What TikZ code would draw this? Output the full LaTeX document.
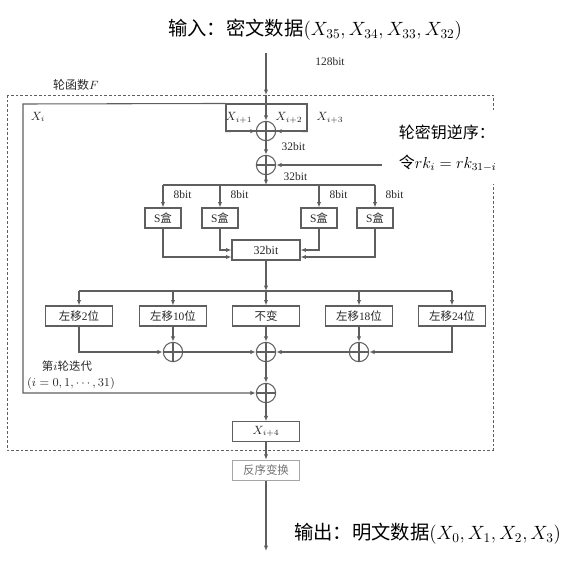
\documentclass[tikz,border=0pt]{standalone}
\usepackage{fontspec}
\setmainfont{Liberation Serif}
\newfontfamily\cjk{Noto Sans CJK SC}
\usetikzlibrary{arrows.meta}
\newcommand\zh[1]{{\cjk #1}}
\definecolor{linegray}{RGB}{95,95,95}
\definecolor{txtgray}{RGB}{40,40,40}
\begin{document}
\begin{tikzpicture}[x=0.75pt,y=-0.75pt,
  line/.style={draw=linegray, line width=0.8pt},
  arr/.style={line, -{Latex[length=4pt,width=3.2pt]}},
  small/.style={font=\fontsize{8.6}{10}\selectfont, text=txtgray},
  big/.style={font=\fontsize{14.5}{17}\selectfont, text=black},
  box/.style={draw=linegray, line width=0.8pt, fill=white, inner sep=0pt, small},
  sbox/.style={box, minimum width=27pt, minimum height=15pt},
  wbox/.style={box, minimum width=50pt, minimum height=15pt},
  xor/.style={circle, draw=linegray, line width=0.8pt, fill=white, inner sep=0pt, minimum size=14.5pt,
    path picture={\draw[linegray, line width=0.8pt] (path picture bounding box.north) -- (path picture bounding box.south)
      (path picture bounding box.west) -- (path picture bounding box.east);}},
  dashbox/.style={draw=linegray, line width=0.7pt, dash pattern=on 2pt off 1.5pt}
]
\useasboundingbox (0,0) rectangle (569,565);

% titles
\node[big] (title) at (315,30) {\zh{输入：密文数据}{\fontsize{14.5}{17}\selectfont$(X_{35},X_{34},X_{33},X_{32})$}};
\node[big] (out) at (427.5,534) {\zh{输出：明文数据}{\fontsize{14.5}{17}\selectfont$(X_0,X_1,X_2,X_3)$}};

% dashed frame of round function
\draw[dashbox] (7,95) rectangle (493,450);
\node[small, font=\fontsize{9}{10}\selectfont] (flabel) at (76,85) {\zh{轮函数}$F$};

% key text (covers dashed line)
\node[fill=white, anchor=west, align=left, inner sep=2pt, minimum height=54pt, text width=80pt,
      font=\fontsize{12}{22.5}\selectfont] (key) at (396,148) {\zh{轮密钥逆序：}\\\zh{令}$rk_i = rk_{31-i}$};

% top input
\coordinate (in) at (266,53);
\coordinate (dtop) at (266,95);
\node[small] (l128) at (330,62) {128bit};

% X box
\node[box, minimum width=60.75pt, minimum height=20.25pt] (xbox) at (266.5,117.5) {};
\coordinate (fbTL) at (23,104);
\coordinate (fbBL) at (23,393);
\node[xor] (x1) at (266,131) {};
\node[small] (lxi) at (38,117) {$X_i$};
\node[small] (lxi1) at (239,118) {$X_{i+1}$};
\node[small] (lxi2) at (289,118) {$X_{i+2}$};
\node[small] (lxi3) at (330,118) {$X_{i+3}$};

\draw[arr] (in) -- (dtop);
\draw[arr] (dtop) -- (x1);
\draw[arr] (xbox.south west) -- (x1);
\draw[arr] (xbox.south east) -- (x1);

% key xor
\node[xor] (x2) at (266,165) {};
\coordinate (kin) at (382,165);
\draw[arr] (x1) -- (x2);
\draw[arr] (kin) -- (x2);
\node[small, anchor=west] (l32a) at (277,147) {32bit};
\node[small, anchor=west] (l32b) at (279,177) {32bit};

% distribution to S boxes
\coordinate (d1) at (266,185);
\draw[arr] (x2) -- (d1);
\node[sbox] (s1) at (163,218) {S\zh{盒}};
\node[sbox] (s2) at (220,218) {S\zh{盒}};
\node[sbox] (s3) at (319,218) {S\zh{盒}};
\node[sbox] (s4) at (375,218) {S\zh{盒}};
\draw[line] (s1.north |- d1) -- (s4.north |- d1);
\foreach \s in {s1,s2,s3,s4}{
  \draw[arr] (\s.north |- d1) -- (\s.north);
  \node[small, anchor=west] at ([xshift=4.5pt]\s.north |- 0,195) {8bit};
}

% 32bit box
\node[box, minimum width=51pt, minimum height=15pt, font=\fontsize{9}{10}\selectfont] (b32) at (266,250) {32bit};
\draw[arr] (s1.south) |- ([yshift=-5.25pt]b32.west);
\draw[arr] (s2.south) |- (b32.west);
\draw[arr] (s3.south) |- (b32.east);
\draw[arr] (s4.south) |- ([yshift=-5.25pt]b32.east);

% distribution to shifts
\coordinate (d2) at (266,291);
\draw[arr] (b32) -- (d2);
\node[wbox] (r2)  at (79,316)  {\zh{左移}2\zh{位}};
\node[wbox] (r10) at (173,316) {\zh{左移}10\zh{位}};
\node[wbox] (r0)  at (266,316) {\zh{不变}};
\node[wbox] (r18) at (359,316) {\zh{左移}18\zh{位}};
\node[wbox] (r24) at (452,316) {\zh{左移}24\zh{位}};
\draw[line] (r2.north |- d2) -- (r24.north |- d2);
\foreach \r in {r2,r10,r0,r18,r24}{
  \draw[arr] (\r.north |- d2) -- (\r.north);
}

% xor row
\node[xor] (xa) at (173,352) {};
\node[xor] (xb) at (266,352) {};
\node[xor] (xc) at (359,352) {};
\draw[arr] (r2.south) |- (xa.west);
\draw[arr] (r10) -- (xa);
\draw[arr] (xa) -- (xb);
\draw[arr] (r0) -- (xb);
\draw[arr] (xc) -- (xb);
\draw[arr] (r18) -- (xc);
\draw[arr] (r24.south) |- (xc.east);

\node[small] (liter) at (67,366) {\zh{第}$i$\zh{轮迭代}};
\node[small] (lrange) at (71,383) {$(i=0,1,\cdots,31)$};

% final xor
\node[xor] (x4) at (266,393) {};
\draw[arr] (xb) -- (x4);
\draw[arr] (xbox.north west) -- (fbTL) -- (fbBL) -- (x4);

% outputs
\node[box, minimum width=50.25pt, minimum height=14.5pt] (x5) at (266,431.5) {$X_{i+4}$};
\draw[arr] (x4) -- (x5);
\node[box, draw=gray!70, minimum width=50.25pt, minimum height=15.5pt, text=gray!90!black] (rev) at (266,470.5) {\zh{反序变换}};
\draw[arr] (x5) -- (rev);
\coordinate (end) at (266,551);
\draw[arr] (rev) -- (end);
\end{tikzpicture}
\end{document}
